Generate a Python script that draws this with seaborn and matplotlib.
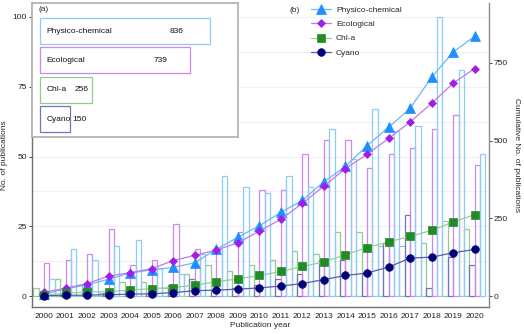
import numpy as np
import pandas as pd
import matplotlib
matplotlib.use("Agg")
import matplotlib.pyplot as plt
from matplotlib.ticker import MultipleLocator
import seaborn as sns

# ---------------- data ----------------
years = list(range(2000, 2021))
series = ["Chl-a", "Cyano", "Ecological", "Physico-chemical"]
chla = [3, 6, 4, 1, 5, 5, 3, 8, 11, 9, 11, 13, 16, 15, 23, 23, 18, 18, 19, 27, 24]
cyano = [1, 1, 1, 1, 2, 1, 4, 6, 2, 3, 4, 6, 8, 13, 13, 8, 19, 29, 3, 14, 11]
ecological = [12, 13, 15, 24, 11, 13, 26, 17, 17, 23, 38, 38, 51, 56, 56, 46, 51, 53, 60, 65, 47]
physico = [6, 17, 13, 18, 20, 10, 8, 15, 43, 39, 37, 43, 39, 60, 49, 67, 59, 61, 100, 81, 51]
inset_names = ["Physico-chemical", "Ecological", "Chl-a", "Cyano"]
inset_totals = [836, 739, 256, 150]
left_ticks = [0, 25, 50, 75, 100]
right_ticks = [0, 250, 500, 750]

# ---------------- style ----------------
sns.set_theme(style="white")
plt.rcParams['font.family'] = ['Liberation Sans', 'DejaVu Sans']
FS = 6

bar_colors = {"Chl-a": "#93cc93", "Cyano": "#7474b8",
              "Ecological": "#cf86ef", "Physico-chemical": "#8ccdf8"}
line_colors = {"Physico-chemical": "#6fb6f5", "Ecological": "#c07ae6",
               "Chl-a": "#9acb9a", "Cyano": "#5c5ca8"}
marker_colors = {"Physico-chemical": "#1e8fff", "Ecological": "#a21ee8",
                 "Chl-a": "#238b23", "Cyano": "#000078"}
markers = {"Physico-chemical": "^", "Ecological": "D", "Chl-a": "s", "Cyano": "o"}
msizes = {"Physico-chemical": 6.5, "Ecological": 3.6, "Chl-a": 5.5, "Cyano": 5.5}

fig = plt.figure(figsize=(5.24, 3.34), dpi=100)
ax = fig.add_axes([31.7 / 524, 1 - 307 / 334, 457 / 524, 304 / 334])

values = {"Chl-a": chla, "Cyano": cyano, "Ecological": ecological, "Physico-chemical": physico}
df = pd.DataFrame([(y, s, values[s][i]) for s in series for i, y in enumerate(years)],
                  columns=["year", "series", "count"])

sns.barplot(data=df, x="year", y="count", hue="series", hue_order=series,
            palette=bar_colors, width=1.0, saturation=1, legend=False, ax=ax)
for cont, s in zip(ax.containers, series):
    for p in cont:
        p.set_facecolor("none")
        p.set_edgecolor(bar_colors[s])
        p.set_linewidth(0.9)

ax.set_xlim(-0.57, 20.65)
ax.set_ylim(-3.9, 105)
ax.set_yticks(left_ticks)
ax.yaxis.set_minor_locator(MultipleLocator(12.5))
ax.grid(True, axis="y", which="both", color="#f1f1f1", lw=0.8)
ax.set_axisbelow(True)
ax.set_xlabel("Publication year", fontsize=FS, labelpad=2)
ax.set_ylabel("No. of publications", fontsize=FS, labelpad=3)
ax.tick_params(axis="x", labelsize=FS, length=0, pad=4, colors="#222222")
ax.tick_params(axis="y", labelsize=FS, length=2, width=0.6, pad=1.5, colors="#222222")
ax.tick_params(axis="y", which="minor", length=0)
for side in ["left", "bottom"]:
    ax.spines[side].set_color("#707070")
    ax.spines[side].set_linewidth(1.0)
ax.spines["top"].set_visible(False)
ax.spines["right"].set_visible(False)

# ---------------- cumulative lines ----------------
ax2 = ax.twinx()
xpos = np.arange(len(years))
for s in ["Physico-chemical", "Ecological", "Chl-a", "Cyano"]:
    sns.lineplot(x=xpos, y=np.cumsum(values[s]), ax=ax2, color=line_colors[s],
                 lw=0.9, marker=markers[s], markersize=msizes[s],
                 markerfacecolor=marker_colors[s], markeredgecolor=marker_colors[s],
                 markeredgewidth=0.5, label=s)
ax2.set_xlim(-0.57, 20.65)
ax2.set_ylim(-35.4, 943)
ax2.set_yticks(right_ticks)
ax2.set_ylabel("Cumulative No. of publications", fontsize=FS, rotation=270, labelpad=9)
ax2.tick_params(axis="y", labelsize=FS, length=2, width=0.6, pad=1.5, colors="#222222")
for side in ["left", "bottom", "top"]:
    ax2.spines[side].set_visible(False)
ax2.spines["right"].set_color("#8a8a8a")
ax2.spines["right"].set_linewidth(1.0)
leg = ax2.legend(loc="upper left", bbox_to_anchor=(0.6, 1.005), frameon=False,
                 fontsize=FS, handlelength=2.4, labelspacing=0.75, handletextpad=0.6,
                 borderaxespad=0.2)
fig.text(290 / 524, 1 - 10 / 334, "(b)", fontsize=FS, va="center", ha="left")

# ---------------- inset (a) ----------------
axi = fig.add_axes([32 / 524, 1 - 137 / 334, 206 / 524, 134 / 334])
axi.set_facecolor("white")
sns.barplot(x=inset_totals, y=inset_names, hue=inset_names, orient="h",
            palette=[bar_colors[n] for n in inset_names], width=0.88,
            saturation=1, legend=False, ax=axi)
for cont, n in zip(axi.containers, inset_names):
    for p in cont:
        p.set_facecolor("none")
        p.set_edgecolor(bar_colors[n])
        p.set_linewidth(0.9)
axi.set_xlim(-39, 973)
axi.set_ylim(3.61, -0.955)
axi.set_xticks([])
axi.set_yticks([])
axi.set_xlabel("")
axi.set_ylabel("")
for i, (n, v) in enumerate(zip(inset_names, inset_totals)):
    axi.text(34, i, n, fontsize=FS, va="center", ha="left", color="#111111")
    axi.text(max(0.8 * v, 192), i, str(v), fontsize=FS, va="center", ha="center",
             color="#111111")
for sp in axi.spines.values():
    sp.set_color("#b4b4b4")
    sp.set_linewidth(1.3)
axi.text(0.03, 0.955, "(a)", transform=axi.transAxes, fontsize=FS, va="center", ha="left")

fig.savefig("out.png", dpi=100)
